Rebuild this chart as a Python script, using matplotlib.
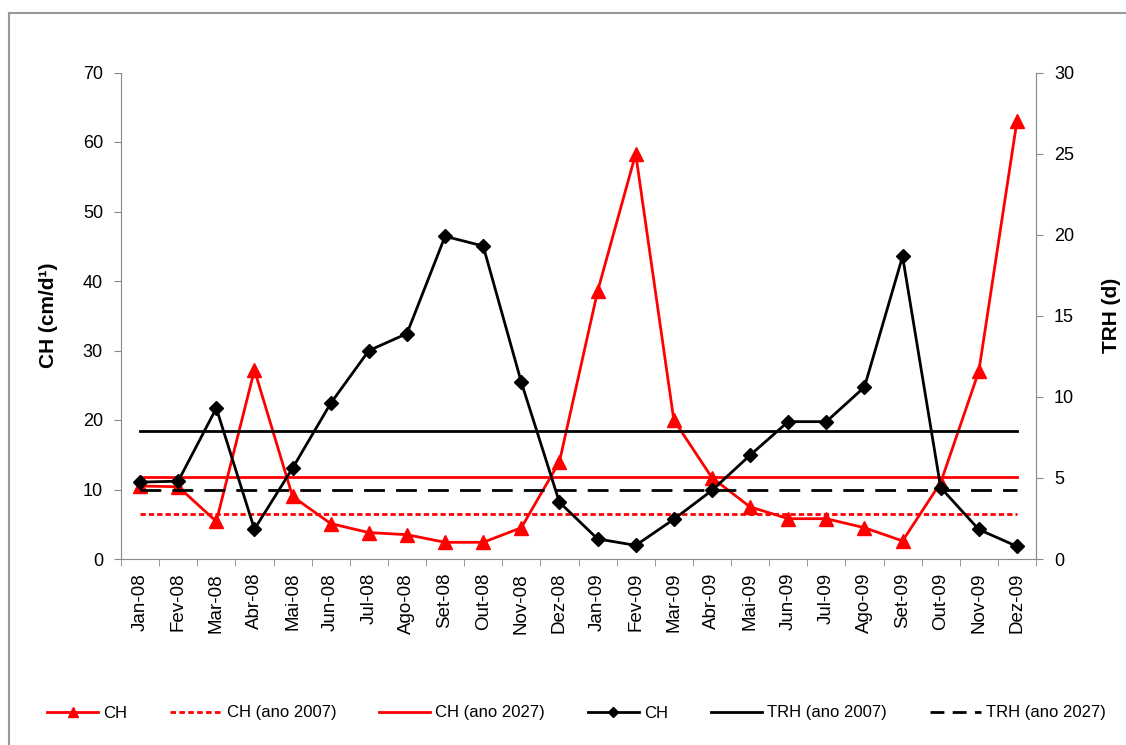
import matplotlib
matplotlib.use("Agg")
import matplotlib.pyplot as plt
from matplotlib.lines import Line2D
import numpy as np

plt.rcParams['font.family'] = ['Liberation Sans', 'DejaVu Sans']

meses = ['Jan-08', 'Fev-08', 'Mar-08', 'Abr-08', 'Mai-08', 'Jun-08', 'Jul-08', 'Ago-08',
         'Set-08', 'Out-08', 'Nov-08', 'Dez-08', 'Jan-09', 'Fev-09', 'Mar-09', 'Abr-09',
         'Mai-09', 'Jun-09', 'Jul-09', 'Ago-09', 'Set-09', 'Out-09', 'Nov-09', 'Dez-09']

# carga hidráulica mensal (cm/d)
ch = [10.5, 10.4, 5.4, 27.2, 9.0, 5.1, 3.8, 3.5, 2.4, 2.4, 4.5, 14.0,
      38.5, 58.3, 20.0, 11.7, 7.5, 5.8, 5.8, 4.5, 2.6, 11.0, 27.0, 63.0]

# tempo de retenção hidráulica mensal (d)
trh = [4.74, 4.8, 9.3, 1.84, 5.6, 9.6, 12.85, 13.9, 19.9, 19.3, 10.9, 3.5,
       1.24, 0.84, 2.45, 4.23, 6.4, 8.47, 8.47, 10.6, 18.66, 4.4, 1.82, 0.78]

ch_2007 = 6.5
ch_2027 = 11.8
trh_2007 = 7.87
trh_2027 = 4.23

fig = plt.figure(figsize=(11.26, 7.45), dpi=100)
ax = fig.add_axes([121 / 1126, 1 - 559 / 745, (1036 - 121) / 1126, (559 - 72.5) / 745])
ax2 = ax.twinx()

x = np.arange(len(meses))
xs = [x[0], x[-1]]

ax.plot(x, ch, color='#ff0000', lw=2, marker='^', ms=10, zorder=3)
ax.plot(xs, [ch_2007] * 2, color='#ff0000', lw=2, ls=(0, (1.9, 1.1)))
ax.plot(xs, [ch_2027] * 2, color='#ff0000', lw=2)
ax2.plot(x, trh, color='black', lw=2, marker='D', ms=7.5, zorder=3)
ax2.plot(xs, [trh_2007] * 2, color='black', lw=2)
ax2.plot(xs, [trh_2027] * 2, color='black', lw=2, ls=(0, (7.5, 4)))

for a in (ax, ax2):
    a.set_xlim(-0.5, len(meses) - 0.5)
    a.spines['top'].set_visible(False)
    for s in a.spines.values():
        s.set_color('#888888')
ax.spines['right'].set_visible(False)
ax2.spines['left'].set_visible(False)
ax2.spines['bottom'].set_visible(False)

ax.set_ylim(0, 70)
ax.set_yticks(range(0, 71, 10))
ax2.set_ylim(0, 30)
ax2.set_yticks(range(0, 31, 5))

ax.set_xticks(x)
ax.set_xticklabels(meses, rotation=90, fontsize=13.5)
ax.set_xticks(np.arange(-0.5, len(meses)), minor=True)
ax.tick_params(axis='x', which='major', length=0, pad=10)
ax.tick_params(axis='x', which='minor', length=5, color='#888888')
ax.tick_params(axis='y', labelsize=13, length=5, color='#888888', pad=8)
ax2.tick_params(axis='y', labelsize=13, length=5, color='#888888', pad=8)

ax.set_ylabel('CH (cm/d¹)', fontsize=15, fontweight='bold', labelpad=18)
ax2.set_ylabel('TRH (d)', fontsize=15, fontweight='bold', labelpad=20)

handles = [
    Line2D([], [], color='#ff0000', lw=2, marker='^', ms=7),
    Line2D([], [], color='#ff0000', lw=2, ls=(0, (2, 1.2))),
    Line2D([], [], color='#ff0000', lw=2),
    Line2D([], [], color='black', lw=2, marker='D', ms=5),
    Line2D([], [], color='black', lw=2),
    Line2D([], [], color='black', lw=2, ls=(0, (5, 3))),
]
labels = ['CH', 'CH (ano 2007)', 'CH (ano 2027)', 'CH', 'TRH (ano 2007)', 'TRH (ano 2027)']
fig.legend(handles, labels, loc='center', bbox_to_anchor=(576.5 / 1126, 1 - 713 / 745), ncol=6,
           frameon=False, fontsize=12, handlelength=3.1, columnspacing=2.55, handletextpad=0.3)

# moldura do gráfico
fig.add_artist(Line2D([9 / 1126, 9 / 1126], [0, 1 - 13 / 745], color='#999999', lw=1.5))
fig.add_artist(Line2D([9 / 1126, 1], [1 - 13 / 745, 1 - 13 / 745], color='#999999', lw=1.5))

fig.savefig('out.png', dpi=100)
